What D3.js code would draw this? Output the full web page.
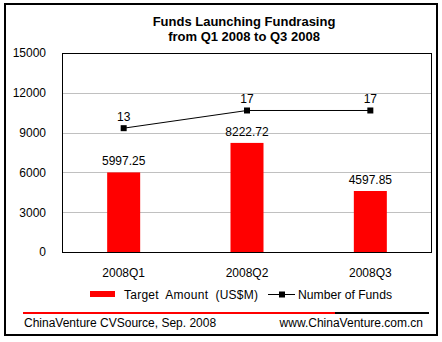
<!DOCTYPE html>
<html><head><meta charset="utf-8">
<script src="https://cdn.jsdelivr.net/npm/d3@7"></script>
<style>html,body{margin:0;padding:0;background:#fff;}svg{display:block;font-family:Arial,"Liberation Sans",sans-serif;}</style>
</head><body>
<script>
const categories = ["2008Q1","2008Q2","2008Q3"];
const targetAmount = [5997.25, 8222.72, 4597.85];
const targetLabels = ["5997.25","8222.72","4597.85"];
const numberOfFunds = [13, 17, 17];
const yTicks = [0, 3000, 6000, 9000, 12000, 15000];
const titleLines = ["Funds Launching Fundrasing", "from Q1 2008 to Q3 2008"];
const legendNames = ["Target  Amount  (US$M)", "Number of Funds"];
const footerLeft = "ChinaVenture CVSource, Sep. 2008";
const footerRight = "www.ChinaVenture.com.cn";

const W = 442, H = 342;
const svg = d3.select("body").append("svg").attr("width", W).attr("height", H);
const plot = {l: 62, r: 432, t: 53, b: 252};

svg.append("rect").attr("x", 5).attr("y", 4).attr("width", 432).attr("height", 331)
  .attr("fill", "#fff").attr("stroke", "#000").attr("stroke-width", 2);

// title
svg.append("g").selectAll("text").data(titleLines).join("text")
  .attr("x", 244).attr("y", (d, i) => 26 + i * 14.5)
  .attr("text-anchor", "middle").attr("font-size", 13).attr("font-weight", "bold")
  .text(d => d);

const x = d3.scaleBand().domain(categories).range([plot.l, plot.r]);
const y = d3.scaleLinear().domain([0, 15000]).range([plot.b, plot.t]);
const y2 = d3.scaleLinear().domain([-15, 30]).range([plot.b, plot.t]);
const barW = 33;

// gridlines
svg.append("g").selectAll("line").data(yTicks.filter(v => v > 0 && v < 15000)).join("line")
  .attr("x1", plot.l).attr("x2", plot.r)
  .attr("y1", d => Math.round(y(d)) + 0.5).attr("y2", d => Math.round(y(d)) + 0.5)
  .attr("stroke", "#c0c0c0").attr("stroke-width", 1);

// y axis labels
const yAxis = d3.axisLeft(y).tickValues(yTicks).tickSize(0).tickPadding(16).tickFormat(d3.format("d"));
const gy = svg.append("g").attr("transform", `translate(${plot.l},0)`).call(yAxis);
gy.select(".domain").remove();
gy.selectAll("text").attr("font-size", 12).attr("font-family", "Arial, 'Liberation Sans', sans-serif").attr("fill", "#000");

// x axis labels
const xAxis = d3.axisBottom(x).tickSize(0).tickPadding(16);
const gx = svg.append("g").attr("transform", `translate(0,${plot.b})`).call(xAxis);
gx.select(".domain").remove();
gx.selectAll("text").attr("font-size", 12).attr("font-family", "Arial, 'Liberation Sans', sans-serif").attr("fill", "#000");

// bars
svg.append("g").selectAll("rect").data(targetAmount).join("rect")
  .attr("x", (d, i) => x(categories[i]) + x.bandwidth() / 2 - barW / 2)
  .attr("y", d => y(d)).attr("width", barW).attr("height", d => plot.b - y(d))
  .attr("fill", "#ff0000");

svg.append("g").selectAll("text").data(targetAmount).join("text")
  .attr("x", (d, i) => x(categories[i]) + x.bandwidth() / 2)
  .attr("y", d => y(d) - 7)
  .attr("text-anchor", "middle").attr("font-size", 12)
  .text((d, i) => targetLabels[i]);

// plot frame
svg.append("rect").attr("x", plot.l + 0.5).attr("y", plot.t + 0.5)
  .attr("width", plot.r - plot.l - 1).attr("height", plot.b - plot.t)
  .attr("fill", "none").attr("stroke", "#000").attr("stroke-width", 1);

// line series
const cx = (i) => x(categories[i]) + x.bandwidth() / 2;
const line = d3.line().x((d, i) => cx(i)).y(d => y2(d));
svg.append("path").datum(numberOfFunds).attr("d", line)
  .attr("fill", "none").attr("stroke", "#000").attr("stroke-width", 1);
svg.append("g").selectAll("rect").data(numberOfFunds).join("rect")
  .attr("x", (d, i) => cx(i) - 3).attr("y", d => y2(d) - 3)
  .attr("width", 6).attr("height", 6).attr("fill", "#000");
svg.append("g").selectAll("text").data(numberOfFunds).join("text")
  .attr("x", (d, i) => cx(i)).attr("y", d => y2(d) - 7)
  .attr("text-anchor", "middle").attr("font-size", 12)
  .text(d => d);

// legend
const ly = 294;
svg.append("rect").attr("x", 90).attr("y", ly - 3).attr("width", 25).attr("height", 6).attr("fill", "#ff0000");
svg.append("text").attr("x", 124).attr("y", ly + 4.5).attr("font-size", 12)
  .style("white-space", "pre").attr("textLength", 134).attr("lengthAdjust", "spacing").text(legendNames[0]);
svg.append("line").attr("x1", 268).attr("x2", 295).attr("y1", ly + 0.5).attr("y2", ly + 0.5)
  .attr("stroke", "#000").attr("stroke-width", 1);
svg.append("rect").attr("x", 279).attr("y", ly - 2.5).attr("width", 6).attr("height", 6).attr("fill", "#000");
svg.append("text").attr("x", 298).attr("y", ly + 4.5).attr("font-size", 12)
  .attr("textLength", 94).attr("lengthAdjust", "spacingAndGlyphs").text(legendNames[1]);

// footer rule
svg.append("rect").attr("x", 23).attr("y", 312).attr("width", 312).attr("height", 2).attr("fill", "#ff0000");
svg.append("rect").attr("x", 335).attr("y", 312).attr("width", 94).attr("height", 2).attr("fill", "#000");

svg.append("text").attr("x", 24).attr("y", 327).attr("font-size", 12).text(footerLeft);
svg.append("text").attr("x", 423).attr("y", 327).attr("font-size", 12).attr("text-anchor", "end").text(footerRight);
</script>
</body></html>
